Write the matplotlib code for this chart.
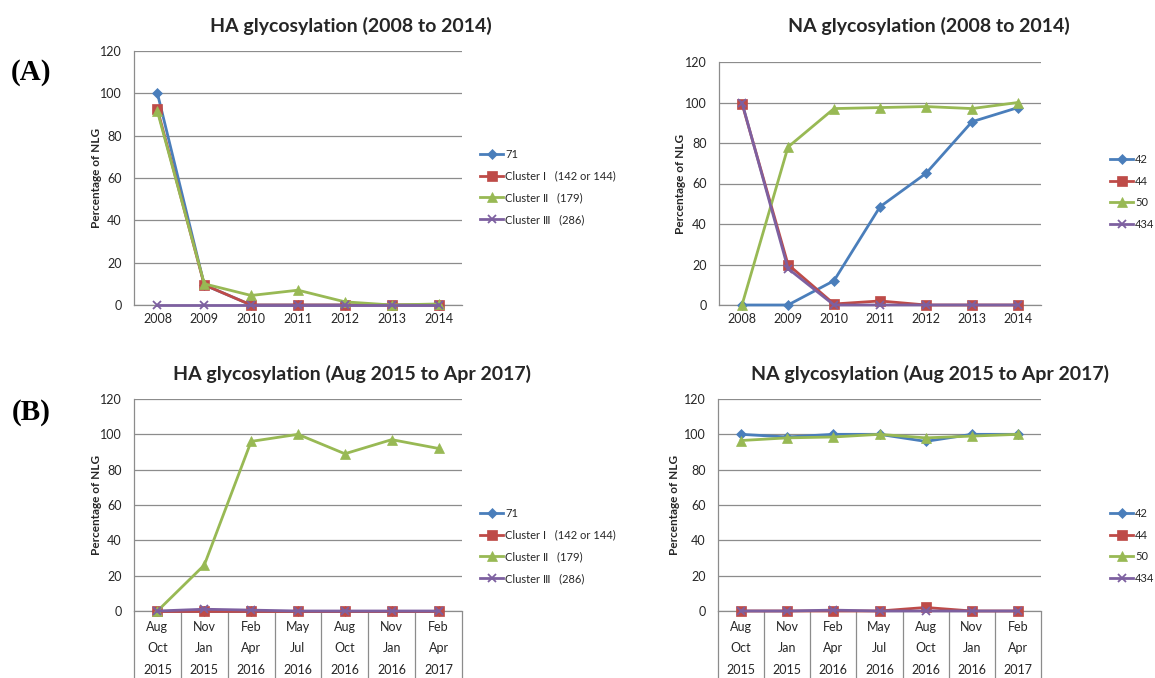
import matplotlib
matplotlib.use("Agg")
import matplotlib.pyplot as plt
from matplotlib.transforms import blended_transform_factory

plt.rcParams['font.family'] = ['Lato', 'DejaVu Sans']

# categories
years = ["2008", "2009", "2010", "2011", "2012", "2013", "2014"]
periods = ["Aug\nOct\n2015", "Nov\nJan\n2015", "Feb\nApr\n2016", "May\nJul\n2016",
           "Aug\nOct\n2016", "Nov\nJan\n2016", "Feb\nApr\n2017"]

ha_labels = ["71", "Cluster Ⅰ   (142 or 144)", "Cluster Ⅱ   (179)", "Cluster Ⅲ   (286)"]
na_labels = ["42", "44", "50", "434"]

# HA 2008-2014
ha1_71 = [100, 9.5, 0, 0, 0, 0, 0]
ha1_c1 = [92.5, 9.5, 0, 0, 0, 0, 0]
ha1_c2 = [91.5, 10, 4.5, 7, 1.5, 0, 0.5]
ha1_c3 = [0, 0, 0, 0, 0, 0, 0]

# NA 2008-2014
na1_42 = [0, 0, 12, 48.5, 65, 90.5, 97.5]
na1_44 = [99.5, 20, 0.5, 2, 0, 0, 0]
na1_50 = [0, 78, 97, 97.5, 98, 97, 100]
na1_434 = [100, 18, 0, 0, 0, 0, 0]

# HA Aug 2015 - Apr 2017
ha2_71 = [0, 0, 0, 0, 0, 0, 0]
ha2_c1 = [0, 0, 0, 0, 0, 0, 0]
ha2_c2 = [0, 26, 96, 100, 89, 97, 92]
ha2_c3 = [0, 1, 0.5, 0, 0, 0, 0]

# NA Aug 2015 - Apr 2017
na2_42 = [100, 98.5, 100, 100, 96, 100, 100]
na2_44 = [0, 0, 0, 0, 2, 0, 0]
na2_50 = [96.5, 98, 98.5, 100, 98, 99, 100]
na2_434 = [0, 0, 0.5, 0, 0, 0, 0]

colors = ["#4A7EBB", "#BE4B48", "#98B954", "#7D60A0"]
markers = ["D", "s", "^", "x"]
msizes = [5.5, 6.5, 7, 6]
grid_c = "#8C8C8C"
txt_c = "#262626"

W, H = 1155, 678
fig = plt.figure(figsize=(W / 100, H / 100), dpi=100)


def px_rect(l, t, r, b):
    return [l / W, 1 - b / H, (r - l) / W, (b - t) / H]


def panel(rect, cats, series, labels, title, title_xy, ylab_x, leg_xy, table=False):
    ax = fig.add_axes(px_rect(*rect))
    x = list(range(len(cats)))
    handles = []
    for vals, c, m, ms in zip(series, colors, markers, msizes):
        h, = ax.plot(x, vals, color=c, lw=2.0, marker=m, markersize=ms,
                     markeredgewidth=1.3 if m == "x" else 0.5,
                     markeredgecolor=c, clip_on=False, zorder=3)
        handles.append(h)
    ax.set_xlim(-0.5, len(cats) - 0.5)
    ax.set_ylim(0, 120)
    ax.set_yticks(range(0, 121, 20))
    ax.yaxis.grid(True, color=grid_c, lw=0.9)
    ax.set_axisbelow(True)
    for s in ["top", "right"]:
        ax.spines[s].set_visible(False)
    for s in ["left", "bottom"]:
        ax.spines[s].set_color(grid_c)
        ax.spines[s].set_linewidth(0.9)
    ax.tick_params(length=0, labelsize=9, colors=txt_c)
    ax.tick_params(axis="y", pad=9)
    ax.set_xticks(x)
    if table:
        ax.set_xticklabels(cats, linespacing=1.95)
        ax.tick_params(axis="x", pad=7)
        tr = blended_transform_factory(ax.transData, ax.transAxes)
        ax.vlines([i - 0.5 for i in range(len(cats) + 1)], -0.5, 0, transform=tr,
                  color=grid_c, lw=0.9, clip_on=False)
    else:
        ax.set_xticklabels(cats)
        ax.tick_params(axis="x", pad=6)
    fig.text(ylab_x[0] / W, 1 - ylab_x[1] / H, "Percentage of NLG", rotation=90,
             ha="center", va="center", fontsize=8.5, fontweight="bold", color=txt_c)
    fig.text(title_xy[0] / W, 1 - title_xy[1] / H, title, ha="center", va="center",
             fontsize=14, fontweight="bold", color=txt_c)
    fig.legend(handles, labels, loc="center left",
               bbox_to_anchor=(leg_xy[0] / W, 1 - leg_xy[1] / H),
               frameon=False, fontsize=8, handlelength=2.1, handletextpad=0.15,
               labelspacing=0.95, borderpad=0, borderaxespad=0, labelcolor=txt_c)
    return ax


panel((134, 51, 462, 305), years, [ha1_71, ha1_c1, ha1_c2, ha1_c3], ha_labels,
      "HA glycosylation (2008 to 2014)", (351, 26), (96, 178), (480, 187))
panel((719, 62, 1041, 305), years, [na1_42, na1_44, na1_50, na1_434], na_labels,
      "NA glycosylation (2008 to 2014)", (929, 26), (680, 184), (1110, 192))
panel((134, 399, 462, 611), periods, [ha2_71, ha2_c1, ha2_c2, ha2_c3], ha_labels,
      "HA glycosylation (Aug 2015 to Apr 2017)", (352, 374), (96, 505), (480, 546),
      table=True)
panel((718, 399, 1041, 611), periods, [na2_42, na2_44, na2_50, na2_434], na_labels,
      "NA glycosylation (Aug 2015 to Apr 2017)", (930, 374), (675, 505), (1110, 546),
      table=True)

fig.text(31 / W, 1 - 73 / H, "(A)", ha="center", va="center", fontsize=21,
         fontweight="bold", family="Liberation Serif", color="black")
fig.text(31 / W, 1 - 413 / H, "(B)", ha="center", va="center", fontsize=21,
         fontweight="bold", family="Liberation Serif", color="black")

fig.savefig("out.png", dpi=100)
